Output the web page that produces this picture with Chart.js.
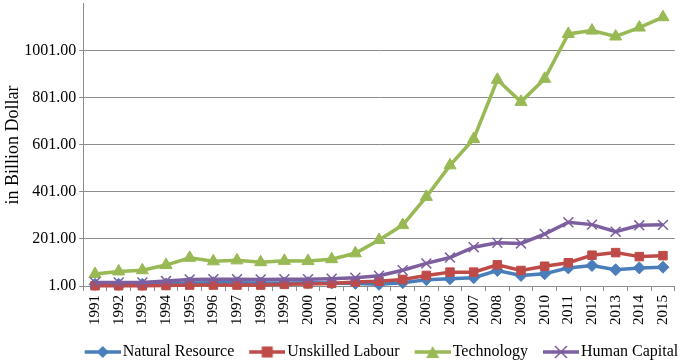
<!DOCTYPE html>
<html>
<head>
<meta charset="utf-8">
<script src="https://cdn.jsdelivr.net/npm/chart.js@4/dist/chart.umd.min.js"></script>
<style>
  body { margin: 0; background: #fff; }
  #wrap { width: 685px; height: 361px; }
</style>
</head>
<body>
<div id="wrap"><canvas id="chart"></canvas></div>
<script>
// Data
const years = ['1991','1992','1993','1994','1995','1996','1997','1998','1999','2000','2001','2002','2003',
    '2004','2005','2006','2007','2008','2009','2010','2011','2012','2013','2014','2015'];
const naturalResource = [8, 8, 8, 9, 14, 15, 15, 14, 14, 15, 14, 12, 8, 15, 28, 32, 36, 67, 46, 53, 78, 88, 70, 78, 81];
const unskilledLabour = [2, 2, 2, 3, 5, 5, 5, 5, 8, 10, 12, 18, 21, 29, 46, 60, 60, 91, 67, 85, 100, 132, 143, 126, 130];
const technology = [52, 63, 68, 90, 121, 106, 110, 102, 108, 107, 115, 140, 197, 260, 380, 514, 626, 878, 784, 882, 1073, 1087, 1062, 1100, 1144];
const humanCapital = [16, 16, 16, 22, 29, 30, 30, 29, 30, 30, 32, 36, 45, 68, 97, 122, 166, 185, 182, 222, 272, 262, 232, 259, 261];
const yTicks = [1, 201, 401, 601, 801, 1001];
const yMax = 1201;

const FONT = "'Liberation Serif', 'Times New Roman', serif";

// line + marker icons for the legend, like Excel draws them.
// the icon sits at the right end of a wider transparent image so the
// text follows it closely
function makeIcon(color, style) {
    const c = document.createElement('canvas');
    c.width = 47; c.height = 14;
    const g = c.getContext('2d');
    g.translate(11, 0);
    g.strokeStyle = color;
    g.fillStyle = color;
    g.lineWidth = 3.5;
    g.beginPath(); g.moveTo(0, 7); g.lineTo(36, 7); g.stroke();
    g.beginPath();
    if (style === 'rectRot') {
        g.moveTo(18, 1); g.lineTo(24, 7); g.lineTo(18, 13); g.lineTo(12, 7); g.closePath(); g.fill();
    } else if (style === 'rect') {
        g.fillRect(12.5, 1.5, 11, 11);
    } else if (style === 'triangle') {
        g.moveTo(18, 1); g.lineTo(24.5, 13); g.lineTo(11.5, 13); g.closePath(); g.fill();
    } else {
        g.lineWidth = 1.5;
        g.moveTo(12, 1); g.lineTo(24, 13); g.moveTo(24, 1); g.lineTo(12, 13); g.stroke();
    }
    return c;
}

const series = [
    { label: 'Natural Resource', data: naturalResource, color: '#4a7ebb', style: 'rectRot', radius: 6 },
    { label: 'Unskilled Labour', data: unskilledLabour, color: '#be4b48', style: 'rect', radius: 6 },
    { label: 'Technology', data: technology, color: '#98b954', style: 'triangle', radius: 7 },
    { label: 'Human Capital', data: humanCapital, color: '#7d5fa0', style: 'crossRot', radius: 7 }
];

const datasets = series.map((s, i) => ({
    label: s.label,
    data: s.data,
    borderColor: s.color,
    backgroundColor: s.color,
    borderWidth: 3.5,
    pointStyle: s.style,
    pointRadius: s.radius,
    pointBorderWidth: s.style === 'crossRot' ? 1.5 : 1,
    pointBorderColor: s.color,
    pointBackgroundColor: s.color,
    tension: 0,
    clip: false,
    order: series.length - i,   // later series drawn on top, as in Excel
    legendIcon: makeIcon(s.color, s.style)
}));

// Excel centres the legend under the plot area, not the whole canvas,
// and sits it a little lower
const placeLegend = {
    id: 'placeLegend',
    afterLayout(chart) {
        const lg = chart.legend;
        if (!lg) return;
        const dx = (chart.chartArea.left + chart.chartArea.right) / 2 - (lg.left + lg.right) / 2;
        const dy = 5;
        lg.left += dx; lg.right += dx;
        lg.top += dy; lg.bottom += dy;
        lg.legendHitBoxes.forEach(h => { h.left += dx; h.top += dy; });
    }
};

new Chart(document.getElementById('chart'), {
    type: 'line',
    data: { labels: years, datasets: datasets },
    plugins: [placeLegend],
    options: {
        responsive: true,
        maintainAspectRatio: false,
        animation: false,
        layout: { autoPadding: false, padding: { top: 1, right: 1, left: 0, bottom: -4 } },
        plugins: {
            tooltip: { enabled: false },
            legend: {
                position: 'bottom',
                labels: {
                    font: { family: FONT, size: 16 },
                    color: '#000',
                    usePointStyle: true,
                    pointStyleWidth: 35,
                    padding: 10,
                    sort: (a, b) => a.datasetIndex - b.datasetIndex,
                    generateLabels: (chart) => chart.data.datasets.map((ds, i) => ({
                        text: ds.label,
                        pointStyle: ds.legendIcon,
                        fillStyle: ds.borderColor,
                        strokeStyle: ds.borderColor,
                        lineWidth: 0,
                        hidden: false,
                        datasetIndex: i
                    }))
                }
            }
        },
        scales: {
            x: {
                offset: true,
                grid: { display: true, drawOnChartArea: false, offset: true, tickLength: 5, color: '#8c8c8c' },
                border: { color: '#8c8c8c' },
                ticks: {
                    font: { family: FONT, size: 15 },
                    color: '#000',
                    minRotation: 90,
                    maxRotation: 90,
                    autoSkip: false,
                    padding: 4
                }
            },
            y: {
                min: yTicks[0],
                max: yMax,
                afterBuildTicks: (scale) => { scale.ticks = yTicks.map(v => ({ value: v })); },
                grid: { color: '#8c8c8c', tickLength: 4 },
                border: { color: '#8c8c8c' },
                ticks: {
                    font: { family: FONT, size: 16, lineHeight: 0.1 },
                    color: '#000',
                    padding: 3,
                    callback: (v) => Number(v).toFixed(2)
                },
                title: {
                    display: true,
                    text: 'in Billion Dollar',
                    font: { family: FONT, size: 18, lineHeight: 0.9 },
                    color: '#000',
                    padding: { top: 5, bottom: 0 }
                }
            }
        }
    }
});
</script>
</body>
</html>
